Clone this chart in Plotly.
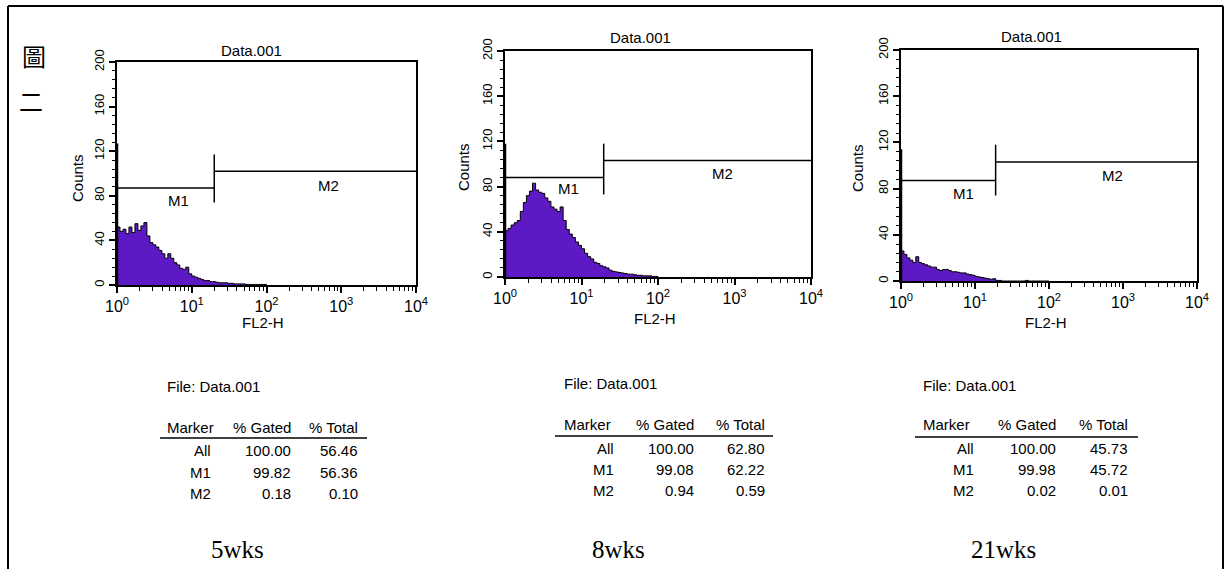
import plotly.graph_objects as go

W, H = 1228, 569

# ---------------- data ----------------
weeks = ["5wks", "8wks", "21wks"]
bin_step = 0.04  # decades of FL2-H per histogram bin

counts_5wks = [52, 48, 50, 46, 52, 47, 55, 49, 53, 56, 44, 38, 36, 34, 31, 28, 24, 28, 24, 20,
               18, 15, 14, 16, 10, 8, 7, 6, 5, 4, 4, 3, 3, 2.5, 2, 2, 2, 1.5, 1.5, 1,
               1, 1, 1, 0.5, 0.5, 0.5, 0.5, 0.5, 0.5, 0.5]
counts_8wks = [41, 43, 46, 48, 50, 58, 66, 72, 76, 83, 77, 75, 74, 70, 67, 62, 60, 58, 62, 50,
               42, 38, 35, 31, 28, 25, 21, 18, 16, 13, 12, 10, 9, 8, 6, 5, 4.5, 4, 3.5, 3,
               2.5, 2.5, 2, 1.5, 1.5, 1, 1, 1, 0.5, 0.5]
counts_21wks = [26, 23, 20, 18, 16, 21, 16, 15, 14, 13, 12, 12, 10, 9, 10, 10, 9, 8, 8, 7.5,
                7, 7, 6, 5.5, 5, 4, 3.5, 3, 2.5, 2, 1.5, 2, 0.5, 0.5, 0, 0, 0, 0, 0, 0,
                0, 0, 0.5, 0, 0, 0, 0, 0, 0, 0]
first_channel = [127, 118, 114]

gate_split = [20, 19.5, 19]
m1_level = [87, 88, 87]
m2_level = [102, 103, 103]
split_low = [74, 73, 74]
split_high = [117, 118, 118]

y_ticks = [0, 40, 80, 120, 160, 200]
x_ticks = [1, 10, 100, 1000, 10000]
x_ticktext = ["10<sup>0</sup>", "10<sup>1</sup>", "10<sup>2</sup>", "10<sup>3</sup>", "10<sup>4</sup>"]

markers = ["All", "M1", "M2"]
gated = [[100.00, 99.82, 0.18], [100.00, 99.08, 0.94], [100.00, 99.98, 0.02]]
total = [[56.46, 56.36, 0.10], [62.80, 62.22, 0.59], [45.73, 45.72, 0.01]]
all_counts = [counts_5wks, counts_8wks, counts_21wks]

# ---------------- layout geometry (pixels) ----------------
boxes = [(117, 416, 62, 285), (505, 811, 51, 277), (901, 1197, 50, 281)]
title_pos = [(251, 50), (640, 38), (1031, 37)]
fl2_pos = [(263, 322), (655, 318), (1046, 322)]
counts_pos = [(78, 178), (463, 167), (857, 168)]
m1_lab = [(178, 200), (568, 189), (963, 193)]
m2_lab = [(328, 185), (722, 173), (1112, 175)]
tables = [
    dict(file=(165, 386), head=427, line=(160, 367, 438), rows=(450, 472, 493),
         left=165, c0=213, c1=293, c2=360),
    dict(file=(562, 383), head=424, line=(555, 773, 436), rows=(448, 469, 490),
         left=562, c0=616, c1=696, c2=767),
    dict(file=(921, 385), head=424, line=(915, 1138, 437), rows=(448, 469, 490),
         left=921, c0=976, c1=1058, c2=1130),
]
week_pos = [(237, 549), (618, 549), (1003, 549)]


def px(x):
    return x / W


def py(y):
    return 1 - y / H


FONT = "Liberation Sans, Arial, sans-serif"
PURPLE = "#5c19c4"

fig = go.Figure()
annotations = []
shapes = []


def label(text, x, y, font, xanchor="center", yanchor="middle", **kw):
    annotations.append(dict(text=text, x=px(x), y=py(y), xref="paper", yref="paper",
                            showarrow=False, font=font, xanchor=xanchor, yanchor=yanchor, **kw))


minor_x = [k * 10 ** d for d in range(4) for k in range(2, 10)]

for i in range(3):
    sfx = "" if i == 0 else str(i + 1)
    xa, ya = "x" + sfx, "y" + sfx
    counts = all_counts[i]
    xs = [1.0] + [10 ** (j * bin_step) for j in range(len(counts) + 1)]
    ys = [0] + list(counts) + [0]
    fig.add_trace(go.Scatter(x=xs, y=ys, mode="lines", line_shape="hv",
                             line=dict(color="black", width=1),
                             fill="tozeroy", fillcolor=PURPLE,
                             xaxis=xa, yaxis=ya, showlegend=False, hoverinfo="skip"))
    fig.add_trace(go.Scatter(x=[1, 1], y=[0, first_channel[i]], mode="lines",
                             line=dict(color="black", width=2.5),
                             xaxis=xa, yaxis=ya, showlegend=False, hoverinfo="skip"))
    # gates
    gl = dict(color="black", width=1.5)
    shapes.append(dict(type="line", xref=xa, yref=ya, x0=1, x1=gate_split[i],
                       y0=m1_level[i], y1=m1_level[i], line=gl))
    shapes.append(dict(type="line", xref=xa, yref=ya, x0=gate_split[i], x1=10000,
                       y0=m2_level[i], y1=m2_level[i], line=gl))
    shapes.append(dict(type="line", xref=xa, yref=ya, x0=gate_split[i], x1=gate_split[i],
                       y0=split_low[i], y1=split_high[i], line=gl))

    x0, x1, y0, y1 = boxes[i]
    axis_common = dict(showgrid=False, zeroline=False, showline=True, mirror=True,
                       linecolor="black", linewidth=1.5, ticks="outside",
                       tickcolor="black", tickwidth=1.5, ticklen=6, automargin=False)
    fig.update_layout(**{
        ("xaxis" + sfx): dict(type="log", range=[0, 4], domain=[px(x0), px(x1)],
                              anchor=ya, tickvals=x_ticks, ticktext=x_ticktext,
                              tickfont=dict(family=FONT, size=16, color="black"),
                              minor=dict(tickvals=minor_x, ticks="outside", ticklen=4,
                                         tickcolor="black", tickwidth=1.2),
                              **axis_common),
        ("yaxis" + sfx): dict(range=[0, 200], domain=[py(y1), py(y0)], anchor=xa,
                              tickvals=y_ticks, tickangle=-90,
                              tickfont=dict(family=FONT, size=13, color="black"),
                              minor=dict(dtick=8, ticks="outside", ticklen=3,
                                         tickcolor="black", tickwidth=1.2),
                              **axis_common),
    })

    tf = dict(family=FONT, size=15, color="black")
    label("Data.001", *title_pos[i], tf)
    label("FL2-H", *fl2_pos[i], tf)
    label("Counts", *counts_pos[i], tf, textangle=-90)
    label("M1", *m1_lab[i], tf)
    label("M2", *m2_lab[i], tf)

    # statistics table
    t = tables[i]
    label("File: Data.001", *t["file"], tf, xanchor="left")
    label("Marker", t["left"], t["head"], tf, xanchor="left")
    label("% Gated", t["c1"], t["head"], tf, xanchor="right")
    label("% Total", t["c2"], t["head"], tf, xanchor="right")
    lx0, lx1, ly = t["line"]
    shapes.append(dict(type="line", xref="paper", yref="paper", x0=px(lx0), x1=px(lx1),
                       y0=py(ly), y1=py(ly), line=dict(color="black", width=1.5)))
    for r in range(3):
        yy = t["rows"][r]
        label(markers[r], t["c0"], yy, tf, xanchor="right")
        label(f"{gated[i][r]:.2f}", t["c1"], yy, tf, xanchor="right")
        label(f"{total[i][r]:.2f}", t["c2"], yy, tf, xanchor="right")

    label(weeks[i], *week_pos[i],
          dict(family="Liberation Serif, Times New Roman, serif", size=25, color="black"))

# figure label
cjk = dict(family="Noto Sans CJK TC, sans-serif", size=24, color="black")
label("圖", 34, 56, cjk)
label("二", 31, 101, cjk)

# document frame
fr = dict(color="black", width=2)
shapes.append(dict(type="line", xref="paper", yref="paper", x0=px(8), x1=px(8),
                   y0=py(6), y1=py(575), line=fr))
shapes.append(dict(type="line", xref="paper", yref="paper", x0=px(8), x1=px(1223),
                   y0=py(6), y1=py(6), line=fr))
shapes.append(dict(type="line", xref="paper", yref="paper", x0=px(1223), x1=px(1223),
                   y0=py(6), y1=py(575), line=fr))

fig.update_layout(width=W, height=H, margin=dict(l=0, r=0, t=0, b=0, autoexpand=False),
                  paper_bgcolor="white", plot_bgcolor="white",
                  annotations=annotations, shapes=shapes, showlegend=False)

fig.write_html("out.html")
